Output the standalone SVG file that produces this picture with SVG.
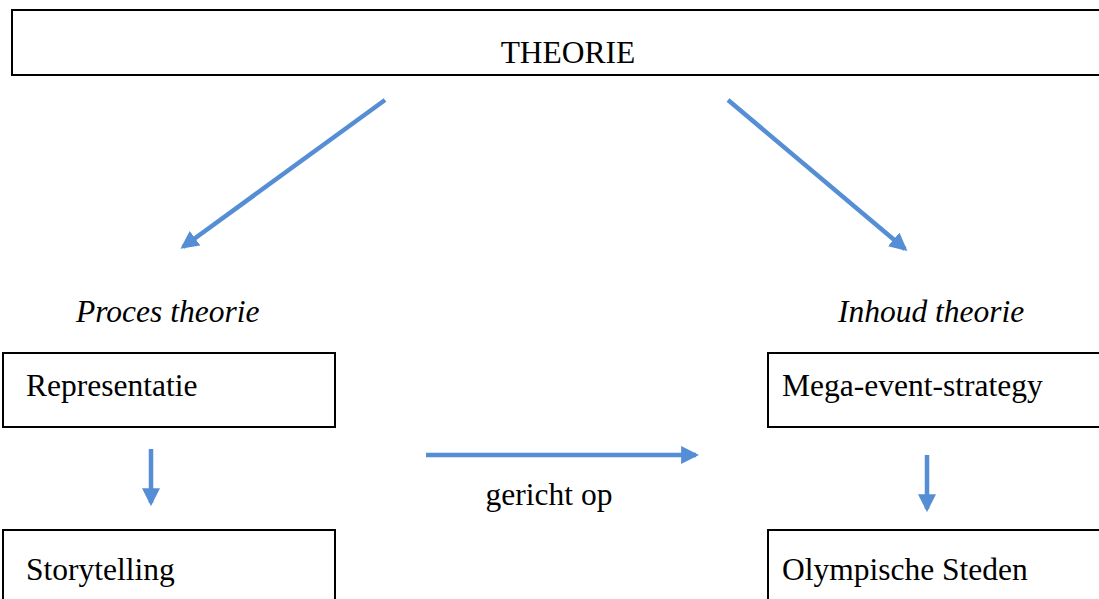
<svg xmlns="http://www.w3.org/2000/svg" width="1099" height="599" viewBox="0 0 1099 599">
<style>
.box{fill:#fff;stroke:#000;stroke-width:2}
.t{font-family:"Liberation Serif","Times New Roman",serif;font-size:31.5px;fill:#000}
.i{font-style:italic}
.c{stroke:#558ED5;stroke-width:4.5;fill:none}
</style>
<defs>
<marker id="ah" markerWidth="4" markerHeight="4" refX="3.3" refY="2" orient="auto" markerUnits="strokeWidth" viewBox="0 0 4 4">
<path d="M0,0 L4,2 L0,4 z" fill="#558ED5"/>
</marker>
</defs>
<rect width="1099" height="599" fill="#fff"/>
<g id="theorie">
<rect class="box" x="12" y="10" width="1100" height="65"/>
<text class="t" x="568" y="63" text-anchor="middle">THEORIE</text>
</g>
<g id="proces">
<text class="t i" x="76" y="322">Proces theorie</text>
</g>
<g id="inhoud">
<text class="t i" x="838" y="322">Inhoud theorie</text>
</g>
<g id="representatie">
<rect class="box" x="3" y="353" width="332" height="74"/>
<text class="t" x="26" y="396">Representatie</text>
</g>
<g id="mega">
<rect class="box" x="768" y="353" width="340" height="74"/>
<text class="t" x="782" y="396">Mega-event-strategy</text>
</g>
<g id="storytelling">
<rect class="box" x="3" y="530" width="332" height="80"/>
<text class="t" x="26" y="580">Storytelling</text>
</g>
<g id="olympische">
<rect class="box" x="768" y="530" width="340" height="80"/>
<text class="t" x="782" y="580">Olympische Steden</text>
</g>
<g id="label">
<text class="t" x="549" y="505" text-anchor="middle">gericht op</text>
</g>
<g id="connectors">
<line class="c" x1="385" y1="100" x2="183" y2="247" marker-end="url(#ah)"/>
<line class="c" x1="728" y1="100" x2="905" y2="249" marker-end="url(#ah)"/>
<line class="c" x1="426" y1="455" x2="696" y2="455" marker-end="url(#ah)"/>
<line class="c" x1="151" y1="449" x2="151" y2="503" marker-end="url(#ah)"/>
<line class="c" x1="927" y1="455" x2="927" y2="509" marker-end="url(#ah)"/>
</g>
</svg>
